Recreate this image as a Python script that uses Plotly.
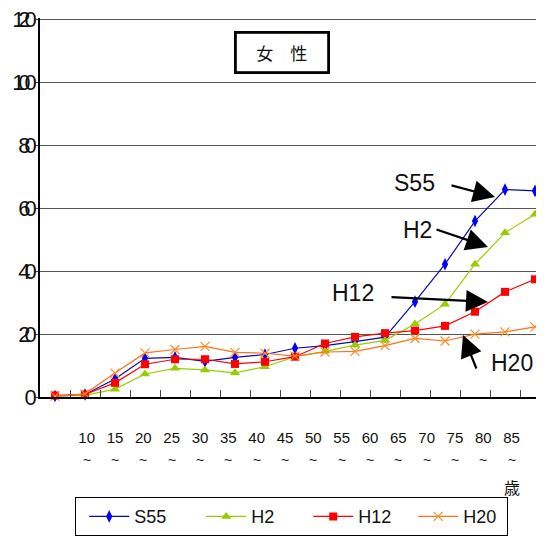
import plotly.graph_objects as go

# ---- data ----
age_groups = ["0", "5", "10", "15", "20", "25", "30", "35", "40", "45", "50",
              "55", "60", "65", "70", "75", "80"]
positions = list(range(len(age_groups)))
tick_labels = ["10", "15", "20", "25", "30", "35", "40", "45",
               "50", "55", "60", "65", "70", "75", "80", "85"]

s55 = [0.3, 0.8, 5.7, 12.3, 12.6, 11.3, 12.6, 13.5, 15.5, 16.3, 17.6, 19.0, 30.3, 42.2, 55.9, 65.9, 65.5]
h2 = [0.3, 0.5, 2.5, 7.3, 9.1, 8.6, 7.7, 9.6, 12.8, 14.5, 16.5, 18.0, 23.2, 29.5, 42.2, 52.2, 58.1]
h12 = [0.5, 0.8, 4.5, 10.4, 12.0, 12.0, 10.5, 11.2, 12.8, 17.0, 19.1, 20.3, 21.1, 22.6, 27.1, 33.4, 37.4]
h20 = [0.3, 1.0, 7.6, 14.0, 15.1, 16.1, 14.2, 13.9, 13.0, 14.3, 14.5, 16.3, 18.6, 17.8, 20.0, 20.7, 22.3]

y_ticks = [0, 20, 40, 60, 80, 100, 120]

# page offset (browser body margin)
OFF = 8
W, H = 544, 538
L = 40 - OFF
T = 18 - OFF
BOTTOM = 397 - OFF
B = H - BOTTOM
PW = W - L
PH = BOTTOM - T
CAT_PX = 30.0
x_lo = -0.5
x_hi = x_lo + PW / CAT_PX
Y_MAX = 120 * 1.0035

def px(x):
    return (x - OFF - L) / PW

def py(y):
    return (BOTTOM - (y - OFF)) / PH

# label row is slightly compressed relative to the category grid
lab_first, lab_step = 1.056, 0.9443
label_pos = [lab_first + i * lab_step for i in range(len(tick_labels))]

FONT = "Liberation Sans"

fig = go.Figure()
series = [
    ("S55", s55, "#0A0AA8", "#0000FF", "diamond-tall", 9, None, 54),
    ("H2", h2, "#99CC00", "#99CC00", "triangle-up", 9, None, 44),
    ("H12", h12, "#FF0000", "#FF0000", "square", 8, None, 42),
    ("H20", h20, "#FF7020", "#FF8C1A", "x-thin-open", 9, 1.2, 38),
]
for name, vals, lc, mc, sym, size, mlw, lw in series:
    marker = dict(symbol=sym, size=size, color=mc)
    if mlw:
        marker["line"] = dict(color=mc, width=mlw)
    else:
        marker["line"] = dict(width=0)
    fig.add_trace(go.Scatter(
        x=positions, y=vals, name=name, mode="lines+markers",
        line=dict(color=lc, width=1.2), marker=marker, cliponaxis=False,
        legendwidth=lw,
    ))

ytext = [f'<span style="letter-spacing:-6px">{v}</span>' for v in y_ticks]

fig.update_layout(
    width=W, height=H,
    margin=dict(l=L, r=0, t=T, b=B, autoexpand=False),
    plot_bgcolor="white", paper_bgcolor="white",
    font=dict(family=FONT, color="#111"),
    xaxis=dict(
        range=[x_lo, x_hi], tickmode="array", automargin=False,
        tickvals=label_pos, ticktext=tick_labels,
        ticks="", showgrid=False, zeroline=False,
        showline=True, linecolor="black", linewidth=1.5,
        tickfont=dict(size=15, family=FONT, color="#111"),
        ticklabelstandoff=26, ticklabeloverflow="allow",
        minor=dict(tickmode="array", tickvals=[p + 0.5 for p in positions[:16]],
                   ticks="inside", ticklen=7, tickcolor="#444", showgrid=False),
    ),
    yaxis=dict(
        range=[0, Y_MAX], tickmode="array", tickvals=y_ticks, automargin=False,
        ticktext=ytext, ticklabeloverflow="allow",
        showgrid=True, gridcolor="#555", gridwidth=1,
        zeroline=False, showline=True, linecolor="black", linewidth=1.5,
        ticks="outside", ticklen=3, tickcolor="#444",
        tickfont=dict(size=22, family=FONT, color="#111"),
    ),
    legend=dict(
        orientation="h", x=px(75), y=py(497), xanchor="left", yanchor="top",
        bordercolor="black", borderwidth=1.2, bgcolor="white",
        font=dict(size=18, family=FONT, color="#111"),
        itemwidth=40, indentation=8,
    ),
    showlegend=True,
)

ann = []
# tilde row under the age labels
for pos in label_pos:
    ann.append(dict(x=pos, y=py(460), xref="x", yref="paper", showarrow=False,
                    xanchor="center", yanchor="middle", text="~",
                    font=dict(size=14, family=FONT, color="#111")))
# title box
ann.append(dict(x=px(282), y=py(52), xref="paper", yref="paper", showarrow=False,
                xanchor="center", yanchor="middle",
                text="女　性", font=dict(size=17, family="Noto Sans CJK JP", color="#111"),
                bordercolor="black", borderwidth=2.8, borderpad=2, width=86, height=33,
                bgcolor="white"))
# unit label
ann.append(dict(x=px(512), y=py(487), xref="paper", yref="paper", showarrow=False,
                xanchor="center", yanchor="middle",
                text="歳", font=dict(size=16, family="Noto Sans CJK JP", color="#111")))
# series labels
for txt, cx, cy in [("S55", 414, 183), ("H2", 417, 230), ("H12", 353, 293), ("H20", 512, 363)]:
    ann.append(dict(x=px(cx), y=py(cy), xref="paper", yref="paper", showarrow=False,
                    xanchor="center", yanchor="middle",
                    text=txt, font=dict(size=23, family=FONT, color="#111")))
# arrows
for tx, ty, ax, ay in [(495, 197, -45, -12), (488, 247, -53, -18), (488, 302, -98, -5), (463, 335, 14, 35)]:
    ann.append(dict(x=px(tx), y=py(ty), xref="paper", yref="paper", showarrow=True,
                    text="", ax=ax, ay=ay, arrowhead=2, arrowsize=2.0, arrowwidth=2.2,
                    arrowcolor="black"))
fig.update_layout(annotations=ann)

fig.write_html("out.html")
